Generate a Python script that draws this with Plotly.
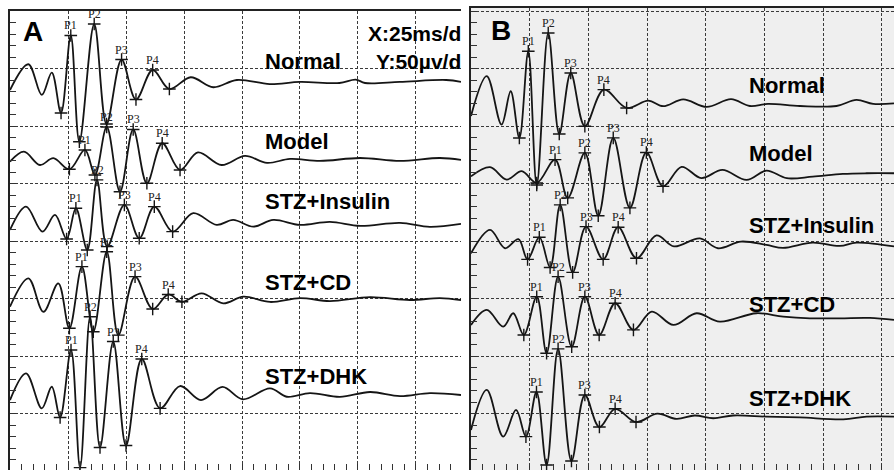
import plotly.graph_objects as go

# ---------------- data (time in ms, amplitude in µV relative to each trace's resting level) ----------------
groups = ["Normal", "Model", "STZ+Insulin", "STZ+CD", "STZ+DHK"]
peak_names = ["P1", "P2", "P3", "P4"]

# Panel A
a_normal_t = [0, 7.9, 13.7, 18.0, 22.0, 26.2, 29.9, 36.3, 41.6, 48.1, 54.3, 61.5, 68.7, 77.9, 87.6, 97.8, 112.0, 125.0, 142.0, 149.0, 153.0, 168.0, 188.0, 194.4]
a_normal_v = [-6.1, 16.3, -10.4, 9.0, -26.1, 41.3, -51.1, 51.3, -35.7, 20.4, -14.4, 11.3, -5.2, 5.0, -3.7, 2.6, -0.9, 0.9, 0.0, 3.0, 0.0, 0.9, 2.6, 0.9]
a_model_t = [0, 6.0, 12.9, 18.7, 25.6, 32.3, 36.6, 41.7, 47.4, 53.1, 59.0, 65.6, 73.3, 81.0, 91.2, 101.3, 110.8, 120.7, 133.6, 150.9, 168.1, 185.3, 194.4]
a_model_v = [-1.5, 7.2, -4.4, 1.5, -8.1, 8.7, -13.1, 28.7, -27.6, 26.5, -20.3, 14.5, -8.7, 6.5, -4.4, 3.5, -2.6, 0.9, -0.9, 1.7, -0.9, 1.7, 0.0]
a_insulin_t = [0, 6.9, 14.0, 19.4, 24.4, 28.4, 33.3, 37.5, 41.9, 49.3, 55.7, 62.2, 70.1, 79.0, 89.1, 96.2, 104.9, 113.5, 125.0, 137.9, 150.9, 168.1, 181.0, 194.4]
a_insulin_v = [-4.4, 15.9, -5.8, 8.7, -12.2, 14.5, -21.8, 39.2, -18.9, 17.4, -11.6, 15.9, -5.8, 10.2, 0.0, 4.4, -1.5, 4.4, 0.0, 2.6, -0.9, 1.7, -1.7, 0.9]
a_cd_t = [0, 7.9, 14.4, 20.8, 25.6, 31.0, 35.9, 41.7, 46.7, 53.9, 61.5, 68.2, 74.1, 82.6, 91.9, 100.6, 112.1, 125.0, 137.9, 155.2, 172.4, 185.3, 194.4]
a_cd_v = [-5.8, 18.9, -10.2, 14.5, -24.6, 29.0, -27.6, 42.0, -30.5, 20.3, -7.8, 4.8, -1.5, 5.8, -2.9, 2.9, -1.7, 1.7, -0.9, 2.6, 0.0, 1.7, 0.0]
a_dhk_t = [0, 6.9, 13.7, 18.0, 21.6, 26.3, 30.2, 34.5, 38.8, 44.5, 50.0, 56.8, 64.7, 73.3, 82.3, 91.6, 100.3, 112.1, 119.3, 129.3, 142.2, 155.2, 168.1, 181.0, 194.4]
a_dhk_v = [-4.4, 18.9, -11.6, 7.2, -19.6, 39.2, -63.1, 68.1, -45.7, 46.5, -43.9, 31.3, -11.6, 7.8, -4.4, 7.0, -3.7, 5.8, -1.5, 1.7, -1.7, 2.6, -0.9, 1.7, 0.0]

# Panel B
b_normal_t = [0, 6.7, 13.0, 16.9, 20.6, 24.4, 28.0, 32.9, 37.6, 42.5, 48.5, 56.6, 66.3, 75.5, 81.9, 90.4, 100.4, 110.8, 118.8, 126.5, 140.1, 155.7, 164.2, 171.3, 180.2]
b_normal_v = [-9.6, 25.0, -17.1, 11.9, -28.7, 46.7, -69.6, 62.6, -25.2, 27.8, -18.5, 13.3, -2.6, 3.7, -1.1, 4.8, -1.7, 5.0, -0.9, 0.9, -0.9, -0.9, 4.4, 0.9, 1.3]
b_model_t = [0, 8.1, 15.2, 21.6, 28.0, 35.8, 41.2, 48.5, 54.2, 60.6, 67.7, 74.7, 81.8, 89.7, 98.1, 107.1, 117.4, 125.9, 134.5, 145.6, 158.4, 168.5, 180.2]
b_model_v = [-0.4, 7.6, -3.2, 4.1, -6.1, 14.2, -19.1, 20.0, -34.6, 33.1, -27.8, 20.4, -9.1, 7.8, -1.9, 5.2, -3.5, 4.6, -2.0, -0.6, 1.7, 2.3, 2.3]
b_insulin_t = [0, 8.1, 14.5, 20.2, 24.1, 29.1, 33.7, 38.0, 43.3, 49.0, 56.3, 62.7, 70.5, 79.0, 86.5, 97.5, 105.2, 115.0, 125.9, 132.9, 145.6, 157.1, 164.2, 180.2]
b_insulin_v = [-7.4, 13.0, -2.9, 5.0, -12.6, 6.7, -19.6, 34.8, -23.9, 15.9, -12.6, 15.4, -11.6, 8.3, -1.3, 5.7, -2.9, 2.9, 0.0, -2.6, 2.0, -0.9, 2.0, -1.3]
b_cd_t = [0, 6.7, 13.7, 18.0, 22.5, 28.0, 32.2, 37.1, 42.9, 48.5, 54.6, 61.4, 69.2, 77.0, 86.2, 96.1, 106.0, 121.6, 133.0, 144.4, 157.1, 169.9, 180.2]
b_cd_v = [-6.1, 7.0, -7.6, 4.1, -14.8, 18.5, -30.7, 35.9, -25.0, 18.5, -14.8, 12.8, -10.4, 5.5, -6.1, 4.1, -3.2, 4.1, 1.1, -0.3, -0.3, 0.0, -1.7]
b_dhk_t = [0, 6.7, 13.7, 19.2, 23.4, 27.9, 32.2, 37.1, 42.8, 48.5, 54.7, 61.4, 70.3, 79.4, 87.6, 95.3, 103.2, 111.7, 125.9, 140.1, 158.6, 168.5, 180.2]
b_dhk_v = [-11.3, 23.5, -17.0, 6.1, -17.1, 21.7, -41.8, 59.2, -38.3, 19.1, -8.7, 7.1, -4.4, 2.9, -1.7, 1.3, -1.1, 1.3, 0.3, -0.4, -2.0, 0.3, 0.3]

# index of marked points within every trace
peak_idx = [5, 7, 9, 11]
mark_idx = [4, 5, 6, 7, 8, 9, 10, 11, 12]

# ---------------- layout constants (display offsets / positions) ----------------
W, H = 894, 470
base_a = [337.8, 270.9, 214.4, 149.1, 66.5]
base_b = [318.7, 257.0, 197.0, 133.5, 47.4]
label_y_a = [61.5, 141.5, 201, 282.5, 376]
label_y_b = [86, 154, 226, 304, 398]
label_x_a, label_x_b = 263, 747

INK = "#151515"

fig = go.Figure()

panels = [
    dict(xa="x", ya="y", base=base_a,
         traces=[(a_normal_t, a_normal_v), (a_model_t, a_model_v), (a_insulin_t, a_insulin_v),
                 (a_cd_t, a_cd_v), (a_dhk_t, a_dhk_v)]),
    dict(xa="x2", ya="y2", base=base_b,
         traces=[(b_normal_t, b_normal_v), (b_model_t, b_model_v), (b_insulin_t, b_insulin_v),
                 (b_cd_t, b_cd_v), (b_dhk_t, b_dhk_v)]),
]

for p in panels:
    for (t, v), b in zip(p["traces"], p["base"]):
        y = [b + val for val in v]
        fig.add_trace(go.Scatter(x=t, y=y, mode="lines",
                                 line=dict(color=INK, width=1.8, shape="spline", smoothing=1.0),
                                 xaxis=p["xa"], yaxis=p["ya"], showlegend=False, hoverinfo="skip"))
        fig.add_trace(go.Scatter(x=[t[i] for i in mark_idx], y=[y[i] for i in mark_idx], mode="markers",
                                 marker=dict(symbol="cross-thin", size=9, line=dict(width=1.4, color=INK)),
                                 xaxis=p["xa"], yaxis=p["ya"], showlegend=False, hoverinfo="skip"))
        for name, i in zip(peak_names, peak_idx):
            fig.add_annotation(x=t[i], y=y[i], xref=p["xa"], yref=p["ya"], text=name, showarrow=False,
                               yshift=10, font=dict(family="Liberation Serif", size=12, color="#222"))

# group labels
for g, yy in zip(groups, label_y_a):
    fig.add_annotation(x=label_x_a / W, y=1 - yy / H, xref="paper", yref="paper", text=f"<b>{g}</b>",
                       showarrow=False, xanchor="left", yanchor="middle",
                       font=dict(family="Liberation Sans", size=22, color="#000"))
for g, yy in zip(groups, label_y_b):
    fig.add_annotation(x=label_x_b / W, y=1 - yy / H, xref="paper", yref="paper", text=f"<b>{g}</b>",
                       showarrow=False, xanchor="left", yanchor="middle",
                       font=dict(family="Liberation Sans", size=22, color="#000"))

# panel letters and scale text
fig.add_annotation(x=32.5 / W, y=1 - 32 / H, xref="paper", yref="paper", text="<b>A</b>", showarrow=False,
                   xanchor="center", yanchor="middle", font=dict(family="Liberation Sans", size=28, color="#000"))
fig.add_annotation(x=501 / W, y=1 - 30.5 / H, xref="paper", yref="paper", text="<b>B</b>", showarrow=False,
                   xanchor="center", yanchor="middle", font=dict(family="Liberation Sans", size=28, color="#000"))
fig.add_annotation(x=463 / W, y=1 - 33 / H, xref="paper", yref="paper", text="<b>X:25ms/d</b>", showarrow=False,
                   xanchor="right", yanchor="middle", font=dict(family="Liberation Sans", size=21, color="#000"))
fig.add_annotation(x=463 / W, y=1 - 62 / H, xref="paper", yref="paper", text="<b>Y:50µv/d</b>", showarrow=False,
                   xanchor="right", yanchor="middle", font=dict(family="Liberation Sans", size=21, color="#000"))

# panel B grey background
fig.add_shape(type="rect", xref="x2 domain", yref="y2 domain", x0=0, x1=1, y0=0, y1=1,
              fillcolor="#efefef", line=dict(width=0), layer="below")

common_x = dict(showticklabels=False, showgrid=True, gridcolor="#3a3a3a", griddash="3px,2px", gridwidth=1.2,
                zeroline=False, dtick=25, tick0=0, ticks="inside", ticklen=6, tickcolor="#333",
                showline=True, linecolor="#222", linewidth=2, mirror=True,
                minor=dict(dtick=5, ticks="inside", ticklen=6, tickcolor="#333", showgrid=False))
common_y = dict(showticklabels=False, showgrid=True, gridcolor="#3a3a3a", griddash="3px,2px", gridwidth=1.2,
                zeroline=False, dtick=50, tick0=0, ticks="inside", ticklen=6, tickcolor="#333",
                showline=True, linecolor="#222", linewidth=2, mirror=False,
                minor=dict(dtick=10, ticks="inside", ticklen=6, tickcolor="#333", showgrid=False))

fig.update_layout(
    width=W, height=H, margin=dict(l=0, r=0, t=0, b=0),
    paper_bgcolor="white", plot_bgcolor="white", showlegend=False,
    xaxis=dict(domain=[10 / W, 461 / W], range=[0, 194.4], anchor="y", **common_x),
    yaxis=dict(domain=[0, 1 - 11 / H], range=[1.3, 400.4], anchor="x", **common_y),
    xaxis2=dict(domain=[471 / W, 1.0], range=[0, 180.2], anchor="y2", **common_x),
    yaxis2=dict(domain=[0, 1 - 8 / H], range=[1.3, 403.0], anchor="x2", **common_y),
)

fig.write_html("out.html", config={"displayModeBar": False},
               post_script="document.body.style.margin='0';document.body.style.overflow='hidden';")
